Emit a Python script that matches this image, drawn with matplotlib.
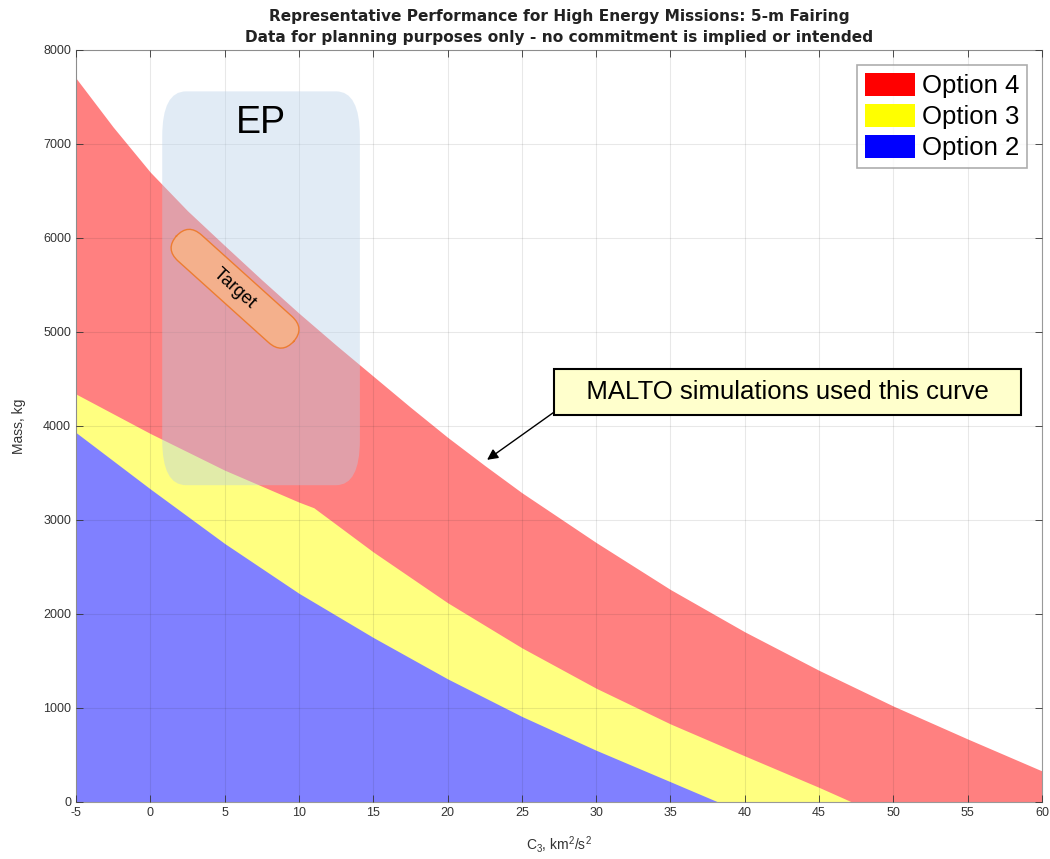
import numpy as np
import matplotlib
matplotlib.use("Agg")
import matplotlib.pyplot as plt
from matplotlib.patches import FancyBboxPatch, Patch

plt.rcParams['font.family'] = ['Liberation Sans', 'DejaVu Sans']
plt.rcParams['mathtext.default'] = 'regular'
plt.rcParams['axes.unicode_minus'] = False

# C3 (km^2/s^2) vs mass (kg)
c3_opt4 = [-5, -2.5, 0, 2.5, 5, 7.5, 10, 12.5, 15, 17.5, 20, 22.5, 25, 30, 35, 40, 45, 50, 55, 60]
mass_opt4 = [7700, 7180, 6700, 6290, 5920, 5555, 5200, 4860, 4530, 4200, 3880, 3580, 3290,
             2760, 2260, 1810, 1400, 1020, 670, 330]

c3_opt3 = [-5, 0, 5, 10, 11, 15, 20, 25, 30, 35, 40, 45, 47.2]
mass_opt3 = [4340, 3920, 3530, 3190, 3130, 2660, 2120, 1640, 1210, 830, 490, 155, 0]

c3_opt2 = [-5, 0, 5, 10, 15, 20, 25, 30, 35, 38.2]
mass_opt2 = [3930, 3330, 2750, 2220, 1750, 1310, 910, 550, 215, 0]

labels = ['Option 4', 'Option 3', 'Option 2']
fill_colors = ['#ff8080', '#ffff80', '#8080ff']
legend_colors = ['#ff0000', '#ffff00', '#0000ff']

x_ticks = list(range(-5, 61, 5))
y_ticks = list(range(0, 8001, 1000))

fig = plt.figure(figsize=(10.5, 8.59), dpi=100)
ax = fig.add_axes([0.0724, 0.0664, 0.92, 0.8754])

ax.fill_between(c3_opt4, mass_opt4, 0, color=fill_colors[0], lw=0)
ax.fill_between(c3_opt3, mass_opt3, 0, color=fill_colors[1], lw=0)
ax.fill_between(c3_opt2, mass_opt2, 0, color=fill_colors[2], lw=0)

ax.set_xlim(-5, 60)
ax.set_ylim(0, 8000)
ax.set_xticks(x_ticks)
ax.set_yticks(y_ticks)
ax.set_axisbelow(False)
ax.grid(True, color='#262626', alpha=0.1, lw=0.8)
ax.tick_params(direction='in', top=True, right=True, length=5, labelsize=9,
               colors='#333333', width=0.6)
for sp in ax.spines.values():
    sp.set_color('#999999')
    sp.set_linewidth(0.8)

ax.set_xlabel('C$_3$, km$^2$/s$^2$', fontsize=10, color='#333333', labelpad=11)
ax.set_ylabel('Mass, kg', fontsize=10, color='#333333', labelpad=12)
ax.set_title('Representative Performance for High Energy Missions: 5-m Fairing\n'
             'Data for planning purposes only - no commitment is implied or intended',
             fontsize=11.1, fontweight='bold', family='DejaVu Sans', linespacing=1.45,
             pad=6, color='#222222')

# EP region box
ep = FancyBboxPatch((0.8, 3370), 13.3, 4190,
                    boxstyle='round,pad=0,rounding_size=1.6',
                    mutation_aspect=300, fc='#b6cfe8', ec='none', alpha=0.4, zorder=3)
ax.add_patch(ep)
ax.text(7.45, 7220, 'EP', fontsize=27, ha='center', va='center', zorder=4)

# Target pill
ax.text(5.7, 5460, '         Target         ', fontsize=13, rotation=-42,
        rotation_mode='anchor', ha='center', va='center', zorder=5,
        bbox=dict(boxstyle='round,pad=0.5,rounding_size=1.0',
                  fc='#f4b08c', ec='#ed7d31', lw=1))

# callout
ax.annotate('   MALTO simulations used this curve   ', xy=(22.66, 3640),
            xytext=(42.9, 4360), fontsize=18.5, ha='center', va='center', zorder=6,
            bbox=dict(boxstyle='square,pad=0.42', fc='#ffffcc', ec='black', lw=1.5),
            arrowprops=dict(arrowstyle='-|>', relpos=(0, 0), color='black', lw=1,
                            mutation_scale=16, shrinkA=0, shrinkB=0))

handles = [Patch(fc=c, ec='none') for c in legend_colors]
leg = ax.legend(handles, labels, loc='upper right', fontsize=18.5, frameon=True,
                fancybox=False, edgecolor='#999999', handlelength=1.95,
                handleheight=1.0, handletextpad=0.25, borderpad=0.3,
                labelspacing=0.22, borderaxespad=0.6)
leg.get_frame().set_linewidth(1.2)
leg.set_zorder(7)

fig.savefig('out.png', dpi=100)
